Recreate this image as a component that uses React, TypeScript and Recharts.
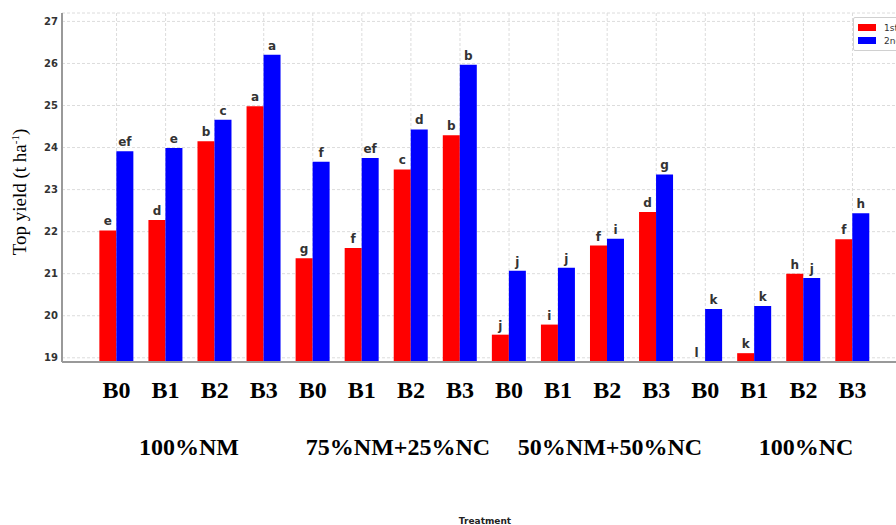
import React from "react";
import { BarChart, Bar, XAxis, YAxis, CartesianGrid, LabelList } from "recharts";

// treatments and bio-fertilizer levels
const treatments = ["100%NM", "75%NM+25%NC", "50%NM+50%NC", "100%NC"];
const levels = ["B0", "B1", "B2", "B3"];

// top yield (t ha-1)
const season1 = [22.03, 22.28, 24.15, 24.98, 21.37, 21.61, 23.48, 24.29, 19.55, 19.79, 21.67, 22.47, 18.91, 19.11, 21.0, 21.82];
const season2 = [23.91, 23.99, 24.66, 26.21, 23.66, 23.75, 24.43, 25.97, 21.07, 21.14, 21.83, 23.36, 20.16, 20.23, 20.9, 22.44];

// significance letters
const letters1 = ["e", "d", "b", "a", "g", "f", "c", "b", "j", "i", "f", "d", "l", "k", "h", "f"];
const letters2 = ["ef", "e", "c", "a", "f", "ef", "d", "b", "j", "j", "i", "g", "k", "k", "j", "h"];

const yTicks = [19, 20, 21, 22, 23, 24, 25, 26, 27];
const seriesNames = ["1st season", "2nd season"];

const data = treatments.flatMap((t, ti) =>
    levels.map((b, bi) => {
        const i = ti * 4 + bi;
        return { id: `${t}-${b}`, level: b, s1: season1[i], s2: season2[i], l1: letters1[i], l2: letters2[i] };
    })
);

const sans = "DejaVu Sans, sans-serif";
const serif = "Liberation Serif, Times New Roman, serif";

const barLabel = (props: any) => {
    const { x, y, width, height, value } = props;
    const top = Math.min(y, y + height);
    return (
        <text x={x + width / 2} y={top - 5} textAnchor="middle" fontFamily={sans} fontWeight="bold" fontSize={12} fill="#333">
            {value}
        </text>
    );
};

const LevelTick = (props: any) => {
    const { x, y, payload } = props;
    const lvl = String(payload.value).split("-").pop();
    return (
        <text x={x} y={y + 36} textAnchor="middle" fontFamily={serif} fontWeight="bold" fontSize={24} fill="#000">
            {lvl}
        </text>
    );
};

// approximate centres of the treatment captions under the axis
const groupCentres = [189, 398, 610, 806];

export default function App() {
    return (
        <div style={{ position: "absolute", left: 0, top: 0, width: 896, height: 525, overflow: "hidden", background: "#fff" }}>
            <BarChart
                width={920}
                height={525}
                data={data}
                margin={{ top: 13, right: 13, left: 22, bottom: 123 }}
                barCategoryGap="15%"
                barGap={0}
            >
                <CartesianGrid stroke="#dcdcdc" strokeDasharray="3 2" />
                <XAxis
                    dataKey="id"
                    interval={0}
                    padding={{ left: 30, right: 30 }}
                    height={40}
                    tickSize={0}
                    tickMargin={0}
                    tickLine={false}
                    axisLine={{ stroke: "#999", strokeWidth: 2 }}
                    tick={<LevelTick />}
                />
                <YAxis
                    domain={[18.9, 27.2]}
                    ticks={yTicks}
                    allowDataOverflow
                    width={40}
                    tickSize={0}
                    tickMargin={4}
                    tickLine={false}
                    axisLine={{ stroke: "#999", strokeWidth: 2 }}
                    tick={{ fill: "#333", fontSize: 10, fontWeight: "bold", fontFamily: sans }}
                />
                <Bar dataKey="s1" name={seriesNames[0]} fill="#ff0000" isAnimationActive={false}>
                    <LabelList dataKey="l1" content={barLabel} />
                </Bar>
                <Bar dataKey="s2" name={seriesNames[1]} fill="#0000ff" isAnimationActive={false}>
                    <LabelList dataKey="l2" content={barLabel} />
                </Bar>
            </BarChart>

            {/* captions drawn over the chart */}
            <svg width={896} height={525} style={{ position: "absolute", left: 0, top: 0, pointerEvents: "none" }}>
                <text transform="rotate(-90, 26, 192)" x={26} y={192} textAnchor="middle" fontFamily={serif} fontSize={19} fill="#000">
                    Top yield (t ha<tspan dy={-7} fontSize={11}>-1</tspan><tspan dy={7}>)</tspan>
                </text>
                {treatments.map((t, i) => (
                    <text key={t} x={groupCentres[i]} y={455} textAnchor="middle" fontFamily={serif} fontWeight="bold" fontSize={24} fill="#000">
                        {t}
                    </text>
                ))}
                <text x={485} y={524} textAnchor="middle" fontFamily={sans} fontWeight="bold" fontSize={9} fill="#222">
                    Treatment
                </text>
            </svg>

            {/* legend, cut off by the right edge like the reference */}
            <div
                style={{
                    position: "absolute",
                    left: 853,
                    top: 17,
                    border: "1px solid #d0d0d0",
                    borderRadius: 2,
                    padding: "3px 4px",
                    background: "#fff",
                    fontFamily: sans,
                    fontSize: 9,
                    color: "#333",
                    whiteSpace: "nowrap",
                }}
            >
                {seriesNames.map((n, i) => (
                    <div key={n} style={{ display: "flex", alignItems: "center", height: 13 }}>
                        <span style={{ display: "inline-block", width: 18, height: 7, background: i === 0 ? "#ff0000" : "#0000ff", marginRight: 8 }} />
                        {n}
                    </div>
                ))}
            </div>
        </div>
    );
}
